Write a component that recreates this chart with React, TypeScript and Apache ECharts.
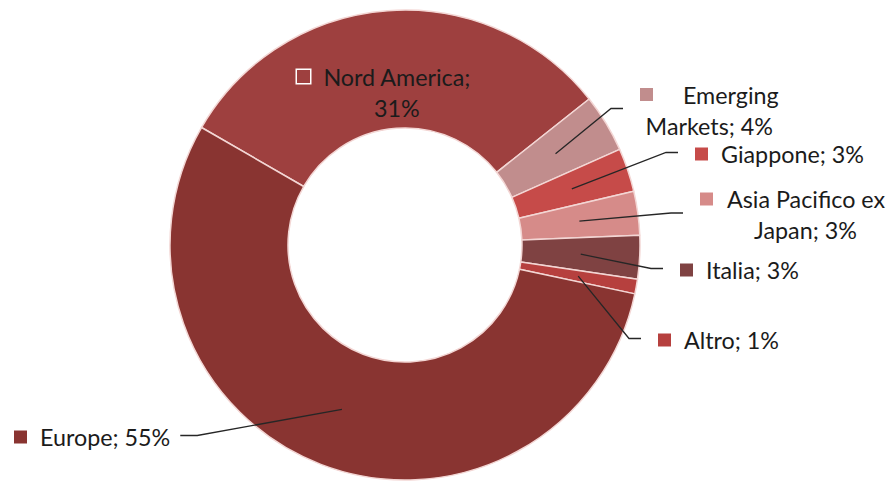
import React, { useEffect, useRef } from "react";
import * as echarts from "echarts";

const categories = ["Nord America", "Emerging Markets", "Giappone", "Asia Pacifico ex Japan", "Italia", "Altro", "Europe"];
const values = [31, 4, 3, 3, 3, 1, 55];
const colors = ["#9E403F", "#C18D8D", "#C64B49", "#D68B89", "#7F4242", "#B6403E", "#893431"];
// number of words on the first line of each label (0 = single line)
const wrapWords = [2, 1, 0, 3, 0, 0, 0];

const CX = 405;
const CY = 245;
const R0 = 117;
const R1 = 235;

// label anchor: left edge of legend key, vertical middle of the block
const labelAnchor = [
  [297, 92],
  [640, 110],
  [695, 154],
  [700, 214.5],
  [680, 270],
  [658, 340],
  [14, 437],
];
const keyGap = [13, 30, 13, 14, 13, 13, 13];
const line2Pad = [26, 0, 0, 26, 0, 0, 0];

export default function App() {
  const ref = useRef<HTMLDivElement>(null);
  useEffect(() => {
    if (!ref.current) return;
    const chart = echarts.init(ref.current, null, { renderer: "svg" });
    const font = "Lato";
    const fs = 23.3;
    const rich: any = {
      t: { fontFamily: font, fontSize: fs, color: "#1b1b1b", lineHeight: 31, align: "center" },
      g13: { width: 13, lineHeight: 31, align: "center" },
      g14: { width: 14, lineHeight: 31, align: "center" },
      g30: { width: 30, lineHeight: 31, align: "center" },
      s26: { width: 26, lineHeight: 31, align: "center" },
    };
    colors.forEach((c, i) => {
      rich["k" + i] = {
        width: 13,
        height: 13,
        backgroundColor: c,
        align: "center",
        lineHeight: 31,
        ...(i === 0 ? { borderColor: "#ffffff", borderWidth: 1.5 } : {}),
      };
    });
    const formatter = (p: any) => {
      const i = p.dataIndex;
      const words = `${p.name}; ${p.value}%`.split(" ");
      const key = `{k${i}|}{g${keyGap[i]}|}`;
      if (wrapWords[i] > 0) {
        const l1 = words.slice(0, wrapWords[i]).join(" ");
        const l2 = words.slice(wrapWords[i]).join(" ");
        const pad = line2Pad[i] ? `{s${line2Pad[i]}|}` : "";
        return `${key}{t|${l1}}\n${pad}{t|${l2}}`;
      }
      return `${key}{t|${words.join(" ")}}`;
    };
    const pieData = (transparent: boolean) =>
      categories.map((name, i) => ({
        name,
        value: values[i],
        itemStyle: transparent
          ? { color: "rgba(0,0,0,0)", borderWidth: 0 }
          : { color: colors[i] },
        labelLine: { show: transparent && i !== 0 },
      }));
    const common = {
      type: "pie",
      center: [CX, CY],
      radius: [R0, R1],
      startAngle: 150,
      clockwise: true,
      avoidLabelOverlap: false,
      emphasis: { disabled: true },
    };
    const option: any = {
      animation: false,
      backgroundColor: "#ffffff",
      series: [
        {
          ...common,
          z: 2,
          itemStyle: { borderColor: "#f3d6d4", borderWidth: 1.5 },
          label: { show: false },
          labelLine: { show: false },
          data: pieData(false),
        },
        {
          ...common,
          z: 5,
          silent: true,
          label: {
            show: true,
            position: "outside",
            formatter,
            rich,
            fontFamily: font,
            fontSize: fs,
            color: "#1b1b1b",
          },
          labelLine: { show: true, lineStyle: { color: "#262626", width: 1.3 } },
          labelLayout: (params: any) => {
            const i = params.dataIndex;
            const [ax, ay] = labelAnchor[i];
            const res: any = { x: ax, y: ay, align: "left", verticalAlign: "middle" };
            const pts = params.labelLinePoints;
            if (pts && i !== 0) {
              const p0 = pts[0];
              const ang = Math.atan2(p0[1] - CY, p0[0] - CX);
              const rm = (R0 + R1) / 2;
              const start = [CX + rm * Math.cos(ang), CY + rm * Math.sin(ang)];
              const ey = ay - 1.5;
              let end: number[];
              let elbow: number[];
              if (ax > CX) {
                end = [ax - 17, ey];
                elbow = [ax - 29, ey];
              } else {
                const right = ax + params.labelRect.width;
                end = [right + 10, ey];
                elbow = [right + 27, ey];
              }
              res.labelLinePoints = [start, elbow, end];
            }
            return res;
          },
          data: pieData(true),
        },
      ],
    };
    chart.setOption(option);
    return () => chart.dispose();
  }, []);
  return <div ref={ref} style={{ position: "fixed", left: 0, top: 0, width: 888, height: 482 }} />;
}
